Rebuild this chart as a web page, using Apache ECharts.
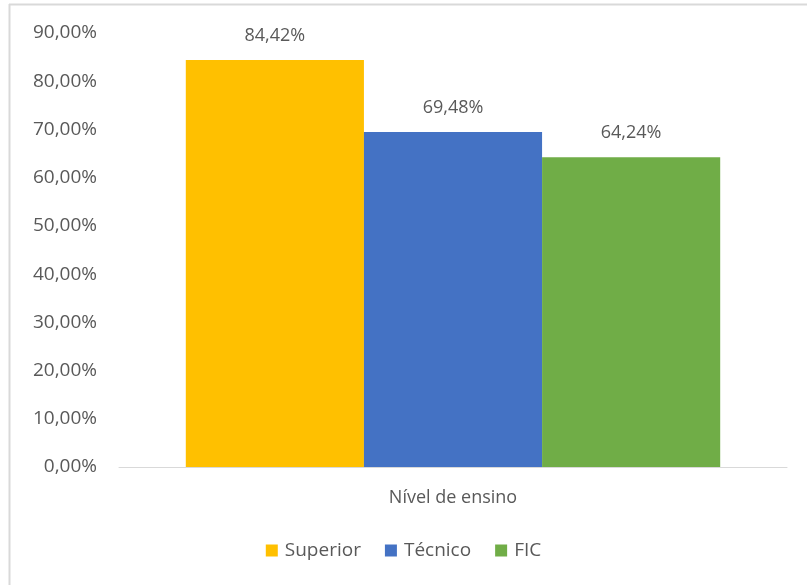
<!DOCTYPE html>
<html>
<head>
<meta charset="utf-8">
<script src="https://cdn.jsdelivr.net/npm/echarts@6/dist/echarts.min.js"></script>
<style>
html,body{margin:0;padding:0;background:#fff;}
#chart{width:807px;height:585px;}
</style>
</head>
<body>
<div id="chart"></div>
<script>
var categories = ['Nível de ensino'];
var seriesNames = ['Superior', 'Técnico', 'FIC'];
var superiorValues = [84.42];
var tecnicoValues = [69.48];
var ficValues = [64.24];
var seriesColors = ['#FFC000', '#4472C4', '#70AD47'];

var FONT = '"Open Sans", sans-serif';
var TXT = '#595959';

function pct(v) {
  return v.toFixed(2).replace('.', ',') + '%';
}

var allValues = [superiorValues, tecnicoValues, ficValues];
var chart = echarts.init(document.getElementById('chart'), null, {renderer: 'canvas'});
chart.setOption({
  animation: false,
  backgroundColor: '#fff',
  textStyle: {fontFamily: FONT},
  grid: {left: 119, right: 20, top: 33, bottom: 118, containLabel: false},
  legend: {
    data: seriesNames,
    bottom: 20,
    left: 'center',
    itemWidth: 12,
    itemHeight: 12,
    itemGap: 24,
    icon: 'rect',
    textStyle: {color: TXT, fontSize: 19, fontFamily: FONT, padding: [0, 0, 0, 2]}
  },
  xAxis: {
    type: 'category',
    data: categories,
    axisLine: {lineStyle: {color: '#d9d9d9', width: 1}},
    axisTick: {show: false},
    axisLabel: {color: TXT, fontSize: 18, fontFamily: FONT, margin: 22}
  },
  yAxis: {
    type: 'value',
    min: 0,
    max: 90,
    interval: 10,
    splitLine: {show: false},
    axisLine: {show: false},
    axisTick: {show: false},
    axisLabel: {color: TXT, fontSize: 19, fontFamily: FONT, margin: 22, formatter: pct}
  },
  series: seriesNames.map(function (name, i) {
    return {
      name: name,
      type: 'bar',
      data: allValues[i],
      barGap: '0%',
      barCategoryGap: '20%',
      itemStyle: {color: seriesColors[i]},
      label: {
        show: true,
        position: 'top',
        distance: 15,
        color: TXT,
        fontSize: 18,
        fontFamily: FONT,
        formatter: function (p) { return pct(p.value); }
      }
    };
  }),
  graphic: [
    {type: 'line', shape: {x1: 9, y1: 4.5, x2: 807, y2: 4.5}, style: {stroke: '#d9d9d9', lineWidth: 2}, silent: true},
    {type: 'line', shape: {x1: 9.5, y1: 4, x2: 9.5, y2: 585}, style: {stroke: '#d9d9d9', lineWidth: 2}, silent: true}
  ]
});
</script>
</body>
</html>
